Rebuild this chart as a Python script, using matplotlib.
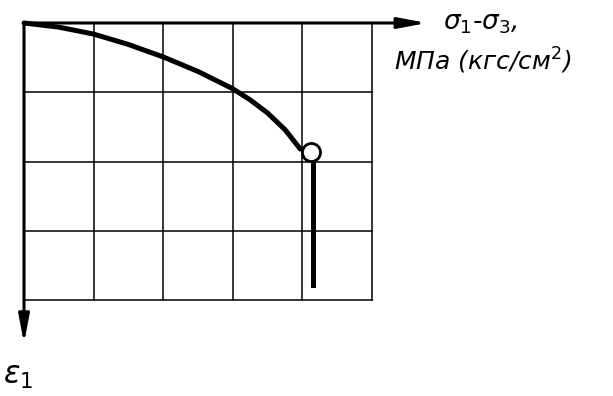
import matplotlib
matplotlib.use("Agg")
import matplotlib.pyplot as plt

# grid size (cells)
n_cols = 5
n_rows = 4

# loading curve: stress difference (grid units) vs axial strain (grid units, downward)
curve_x = [0.0, 0.5, 1.0, 1.5, 2.0, 2.5, 3.0, 3.25, 3.5, 3.75, 3.97]
curve_y = [0.0, 0.06, 0.16, 0.31, 0.49, 0.7, 0.95, 1.11, 1.3, 1.54, 1.82]

# failure point and residual (vertical) branch
fail_x = 4.13
fail_y = 1.87
resid_x = [4.15, 4.15]
resid_y = [2.0, 3.78]

x_label = r"$\sigma_1$-$\sigma_3$,"
x_units = "МПа (кгс/см$^2$)"
y_label = r"$\varepsilon_1$"


def main():
    fig = plt.figure(figsize=(6.13, 3.96), dpi=100)
    ax = fig.add_axes([0, 0, 1, 1])
    ax.set_xlim(-0.345, 8.463)
    ax.set_ylim(5.386, -0.332)
    ax.axis("off")

    # grid
    for i in range(n_cols + 1):
        ax.plot([i, i], [0, n_rows], color="black", lw=1.1)
    for j in range(n_rows + 1):
        ax.plot([0, n_cols], [j, j], color="black", lw=1.1)

    # axes with arrows
    arrow = dict(arrowstyle="-|>,head_length=1.7,head_width=0.32",
                 color="black", lw=2.2, shrinkA=0, shrinkB=0)
    ax.annotate("", xy=(5.79, 0), xytext=(0, 0), arrowprops=arrow)
    ax.annotate("", xy=(0, 4.63), xytext=(0, 0), arrowprops=arrow)

    # curve
    ax.plot(curve_x, curve_y, color="black", lw=3.6,
            solid_capstyle="round", solid_joinstyle="round")
    ax.plot(resid_x, resid_y, color="black", lw=3.6)
    ax.plot(fail_x, fail_y, "o", ms=13, mfc="white", mec="black", mew=2)

    # labels
    ax.text(6.02, 0.0, x_label, fontsize=19, style="italic",
            ha="left", va="center")
    ax.text(5.32, 0.55, x_units, fontsize=18, style="italic",
            ha="left", va="center")
    ax.text(-0.3, 5.1, y_label, fontsize=22, ha="left", va="center")

    fig.savefig("out.png", dpi=100)


if __name__ == "__main__":
    main()
